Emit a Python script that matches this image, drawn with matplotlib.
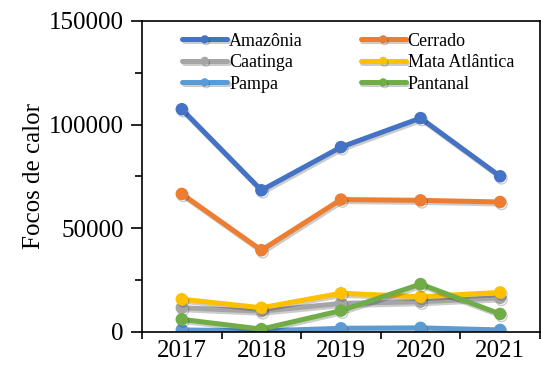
import matplotlib
matplotlib.use('Agg')
import matplotlib.pyplot as plt
import matplotlib.patheffects as pe
from matplotlib.ticker import MultipleLocator, FixedLocator

years = ['2017', '2018', '2019', '2020', '2021']
amazonia = [107439, 68345, 89176, 103161, 75090]
cerrado = [66600, 39449, 63874, 63500, 62700]
caatinga = [11700, 10000, 13800, 14600, 16500]
mata_atlantica = [15800, 11700, 18700, 17000, 19100]
pampa = [1000, 500, 1800, 2000, 1000]
pantanal = [6100, 1400, 10300, 23100, 8700]

series = [
    ('Amazônia', amazonia, '#4472C4'),
    ('Cerrado', cerrado, '#ED7D31'),
    ('Caatinga', caatinga, '#A5A5A5'),
    ('Mata Atlântica', mata_atlantica, '#FFC000'),
    ('Pampa', pampa, '#5B9BD5'),
    ('Pantanal', pantanal, '#70AD47'),
]

plt.rcParams['font.family'] = ['Liberation Serif', 'DejaVu Serif']

fig = plt.figure(figsize=(5.41, 3.74), dpi=100)
ax = fig.add_axes([0.2625, 0.1123, 0.7355, 0.8316])

x = list(range(len(years)))
shadow = [pe.SimpleLineShadow(offset=(1, -1.5), alpha=0.2, shadow_color='black'), pe.Normal()]
handles = {}
for name, vals, color in series:
    line, = ax.plot(x, vals, color=color, lw=3.6, marker='o', ms=8, label=name,
                    solid_capstyle='round', path_effects=shadow)
    handles[name] = line

ax.set_xlim(-0.5, 4.5)
ax.set_ylim(0, 150000)
ax.set_xticks(x)
ax.set_xticklabels(years)
ax.xaxis.set_minor_locator(FixedLocator([i - 0.5 for i in range(6)]))
ax.tick_params(axis='x', which='major', length=0, labelsize=18, pad=6)
ax.tick_params(axis='x', which='minor', length=5, width=1.2, direction='out')
ax.yaxis.set_major_locator(MultipleLocator(50000))
ax.yaxis.set_minor_locator(MultipleLocator(25000))
ax.tick_params(axis='y', which='major', length=8, width=1.2, labelsize=18, pad=5)
ax.tick_params(axis='y', which='minor', length=5, width=1.2)
ax.set_ylabel('Focos de calor', fontsize=18, labelpad=3)

for s in ax.spines.values():
    s.set_linewidth(1.2)

# two columns, filled row by row
order = ['Amazônia', 'Caatinga', 'Pampa', 'Cerrado', 'Mata Atlântica', 'Pantanal']
ax.legend([handles[n] for n in order], order, ncol=2, frameon=False,
          loc='upper left', bbox_to_anchor=(0.06, 1.015),
          fontsize=13, handlelength=2.5, handletextpad=0.1, labelspacing=0.25,
          columnspacing=3.2, markerscale=0.6)

fig.savefig('out.png', dpi=100)
